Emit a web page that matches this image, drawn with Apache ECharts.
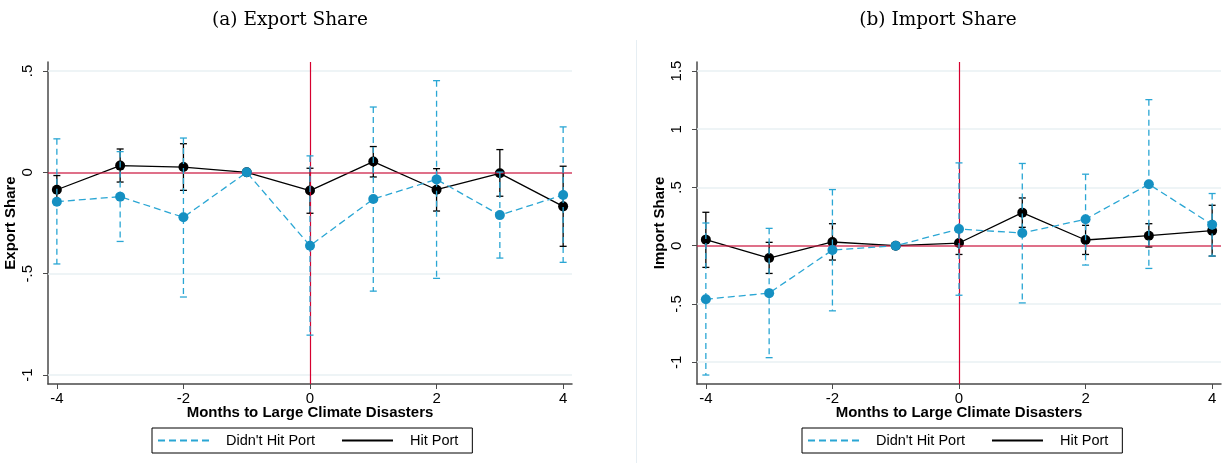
<!DOCTYPE html>
<html>
<head>
<meta charset="utf-8">
<script src="https://cdn.jsdelivr.net/npm/echarts@6/dist/echarts.min.js"></script>
<style>
  html, body { margin: 0; padding: 0; background: #fff; }
  #chart { width: 1225px; height: 463px; }
</style>
</head>
<body>
<div id="chart"></div>
<script>
// months relative to the disaster
const months = [-4, -3, -2, -1, 0, 1, 2, 3, 4]
const xTicks = [-4, -2, 0, 2, 4]

// (a) export share
const exportHit = [-0.086, 0.033, 0.026, 0, -0.09, 0.053, -0.086, -0.005, -0.168]
const exportHitLo = [-0.156, -0.048, -0.089, null, -0.202, -0.023, -0.191, -0.118, -0.365]
const exportHitHi = [-0.016, 0.115, 0.141, null, 0.02, 0.127, 0.018, 0.112, 0.03]
const exportMiss = [-0.145, -0.12, -0.222, 0, -0.362, -0.132, -0.035, -0.211, -0.112]
const exportMissLo = [-0.452, -0.341, -0.615, null, -0.803, -0.586, -0.523, -0.423, -0.444]
const exportMissHi = [0.165, 0.102, 0.169, null, 0.081, 0.322, 0.452, 0.001, 0.224]
const exportTicks = [-1, -0.5, 0, 0.5]

// (b) import share
const importHit = [0.052, -0.106, 0.032, 0, 0.023, 0.284, 0.049, 0.086, 0.129]
const importHitLo = [-0.186, -0.238, -0.123, null, -0.075, 0.158, -0.075, -0.011, -0.089]
const importHitHi = [0.287, 0.029, 0.189, null, 0.121, 0.41, 0.175, 0.189, 0.347]
const importMiss = [-0.459, -0.407, -0.037, 0, 0.143, 0.109, 0.227, 0.528, 0.181]
const importMissLo = [-1.11, -0.961, -0.559, null, -0.425, -0.491, -0.166, -0.195, -0.089]
const importMissHi = [0.195, 0.149, 0.482, null, 0.711, 0.706, 0.614, 1.254, 0.448]
const importTicks = [-1, -0.5, 0, 0.5, 1, 1.5]

const BLUE = '#1590c2'
const BLUE_LINE = '#2aa6d4'
const RED = '#cc1f45'
const RED_V = '#d6002f'
const GRIDLINE = '#e9f0f3'
const AXIS = '#4a4a4a'
const SANS = 'Liberation Sans'

function pairs(ys) {
   return months.map((m, i) => [m, ys[i]])
}

function ciData(lo, hi) {
   let out = []
   months.forEach((m, i) => {
      if (lo[i] !== null) out.push([m, lo[i], hi[i]])
   })
   return out
}

function errRender(color, dashed) {
   return function (params, api) {
      let x = api.value(0)
      let top = api.coord([x, api.value(2)])
      let bot = api.coord([x, api.value(1)])
      let w = 3.5
      let cap = { stroke: color, lineWidth: 1.3 }
      return {
         type: 'group',
         children: [
            {
               type: 'line',
               shape: { x1: top[0], y1: top[1], x2: bot[0], y2: bot[1] },
               style: { stroke: color, lineWidth: 1.3, lineDash: dashed ? [6, 4] : null }
            },
            { type: 'line', shape: { x1: top[0] - w, y1: top[1], x2: top[0] + w, y2: top[1] }, style: cap },
            { type: 'line', shape: { x1: bot[0] - w, y1: bot[1], x2: bot[0] + w, y2: bot[1] }, style: cap }
         ]
      }
   }
}

function yFmt(v) {
   return String(v).replace(/^(-?)0\./, '$1.')
}

function xAxisOpt(idx) {
   return {
      type: 'value', gridIndex: idx, min: -4.14, max: 4.14,
      name: 'Months to Large Climate Disasters', nameLocation: 'middle', nameGap: 21,
      nameMoveOverlap: false,
      nameTextStyle: { fontFamily: SANS, fontWeight: 'bold', fontSize: 15, color: '#000', verticalAlign: 'top' },
      axisLine: { onZero: false, lineStyle: { color: AXIS, width: 1.5 } },
      axisTick: { customValues: xTicks, length: 5, lineStyle: { color: AXIS } },
      axisLabel: { customValues: xTicks, fontFamily: SANS, fontSize: 15, color: '#000', margin: 7 },
      splitLine: { show: false }
   }
}

function yAxisOpt(idx, name, min, max, ticks) {
   return {
      type: 'value', gridIndex: idx, min: min, max: max,
      name: name, nameLocation: 'middle', nameGap: 30,
      nameTextStyle: { fontFamily: SANS, fontWeight: 'bold', fontSize: 15, color: '#000' },
      axisLine: { show: true, onZero: false, lineStyle: { color: AXIS, width: 1.5 } },
      axisTick: { show: true, customValues: ticks, length: 5, lineStyle: { color: AXIS } },
      axisLabel: { customValues: ticks, rotate: 90, fontFamily: SANS, fontSize: 15, color: '#000', margin: 13, formatter: yFmt },
      splitLine: { show: false }
   }
}

function panelSeries(idx, hit, hitLo, hitHi, miss, missLo, missHi, ticks) {
   return [
      {
         name: 'ref' + idx, type: 'line', xAxisIndex: idx, yAxisIndex: idx, data: [], z: 1,
         markLine: {
            silent: true, symbol: 'none', label: { show: false }, animation: false,
            data: ticks.filter(t => t !== 0).map(t => ({ yAxis: t, lineStyle: { color: GRIDLINE, width: 1.5, type: 'solid' } }))
               .concat([
                  { yAxis: 0, lineStyle: { color: RED, width: 1.6, type: 'solid', opacity: 0.85 } },
                  { xAxis: 0, lineStyle: { color: RED_V, width: 1.2, type: 'solid' } }
               ])
         }
      },
      {
         name: 'ci-hit' + idx, type: 'custom', xAxisIndex: idx, yAxisIndex: idx, z: 3,
         renderItem: errRender('#000', false), encode: { x: 0, y: [1, 2] },
         data: ciData(hitLo, hitHi)
      },
      {
         name: 'Hit Port', type: 'line', xAxisIndex: idx, yAxisIndex: idx, z: 4,
         data: pairs(hit), symbol: 'circle', symbolSize: 10,
         itemStyle: { color: '#000' }, lineStyle: { color: '#000', width: 1.3 }
      },
      {
         name: 'ci-miss' + idx, type: 'custom', xAxisIndex: idx, yAxisIndex: idx, z: 5,
         renderItem: errRender(BLUE_LINE, true), encode: { x: 0, y: [1, 2] },
         data: ciData(missLo, missHi)
      },
      {
         name: "Didn't Hit Port", type: 'line', xAxisIndex: idx, yAxisIndex: idx, z: 6,
         data: pairs(miss), symbol: 'circle', symbolSize: 10,
         itemStyle: { color: BLUE }, lineStyle: { color: BLUE_LINE, width: 1.3, type: [7, 4] }
      }
   ]
}

function legendOpt(left) {
   return {
      left: left, top: 428, orient: 'horizontal',
      borderColor: '#000', borderWidth: 1, borderRadius: 0,
      padding: [5, 14, 5, 5], itemGap: 26, itemWidth: 51, itemHeight: 2,
      itemStyle: { opacity: 0 },
      textStyle: { fontFamily: SANS, fontSize: 14.5, color: '#000', padding: [0, 0, 0, 12] },
      selectedMode: false,
      data: ["Didn't Hit Port", 'Hit Port']
   }
}

let myChart = echarts.init(document.getElementById('chart'), null, { renderer: 'canvas' })
let option = {
   animation: false,
   backgroundColor: '#fff',
   title: [
      { text: '(a) Export Share', left: 285, top: 6, textAlign: 'center', textStyle: { fontFamily: 'DejaVu Serif', fontWeight: 'normal', fontSize: 18.5, color: '#000' } },
      { text: '(b) Import Share', left: 933, top: 6, textAlign: 'center', textStyle: { fontFamily: 'DejaVu Serif', fontWeight: 'normal', fontSize: 18.5, color: '#000' } }
   ],
   grid: [
      { left: 48, top: 62, width: 524, height: 322 },
      { left: 697, top: 62, width: 524, height: 322 }
   ],
   xAxis: [xAxisOpt(0), xAxisOpt(1)],
   yAxis: [
      yAxisOpt(0, 'Export Share', -1.044, 0.544, exportTicks),
      yAxisOpt(1, 'Import Share', -1.187, 1.577, importTicks)
   ],
   legend: [legendOpt(152), legendOpt(802)],
   graphic: [
      { type: 'line', shape: { x1: 636.5, y1: 40, x2: 636.5, y2: 463 }, style: { stroke: '#e6eef3', lineWidth: 1 }, silent: true }
   ],
   series: panelSeries(0, exportHit, exportHitLo, exportHitHi, exportMiss, exportMissLo, exportMissHi, exportTicks)
      .concat(panelSeries(1, importHit, importHitLo, importHitHi, importMiss, importMissLo, importMissHi, importTicks))
}
myChart.setOption(option)
</script>
</body>
</html>
